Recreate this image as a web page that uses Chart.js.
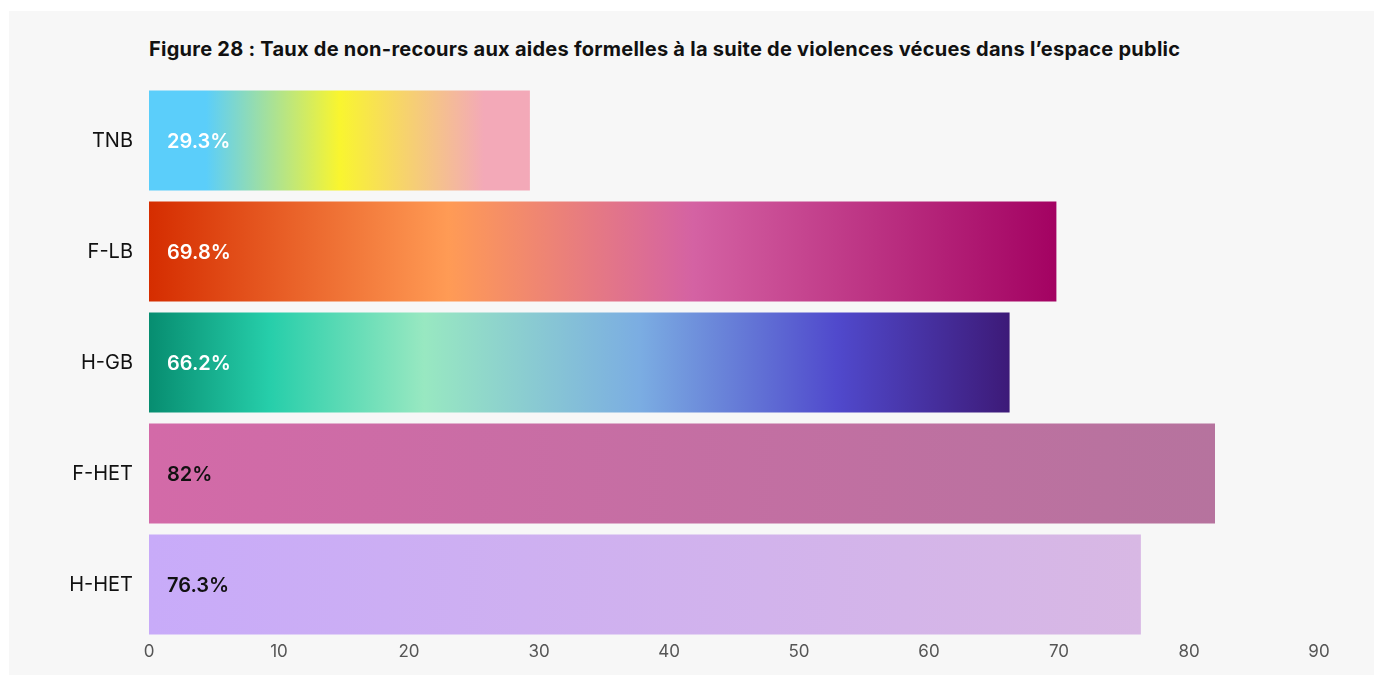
<!DOCTYPE html>
<html lang="fr">
<head>
<meta charset="utf-8">
<script src="https://cdn.jsdelivr.net/npm/chart.js@4"></script>
<style>
  html, body { margin: 0; padding: 0; background: #fff; }
  #panel {
    position: absolute; left: 9px; top: 11px; width: 1365px; height: 664px;
    background: #f7f7f7;
  }
  #title {
    position: absolute; left: 140px; top: 26px;
    font-family: Inter, sans-serif; font-weight: 700; font-size: 20px;
    letter-spacing: 0.25px; color: #111; white-space: nowrap;
  }
  #wrap { position: absolute; left: 0; top: 0; width: 1365px; height: 664px; }
</style>
</head>
<body>
<div id="panel">
  <div id="title">Figure 28 : Taux de non-recours aux aides formelles à la suite de violences vécues dans l’espace public</div>
  <div id="wrap"><canvas id="chart"></canvas></div>
</div>
<script>
// categories and values
const groups = ["TNB", "F-LB", "H-GB", "F-HET", "H-HET"];
const rates = [29.3, 69.8, 66.2, 82, 76.3];
const xTicks = [0, 10, 20, 30, 40, 50, 60, 70, 80, 90];

// gradient stops for each bar (flag colours)
const barStops = [
  [[0, "#5bcefa"], [0.15, "#5bcefa"], [0.5, "#f9f52f"], [0.88, "#f3a9b8"], [1, "#f3a9b8"]],
  [[0, "#d52d00"], [0.33, "#ff9b55"], [0.6, "#d462a3"], [1, "#a30262"]],
  [[0, "#078d70"], [0.14, "#26ceaa"], [0.32, "#98e8c1"], [0.57, "#7bade2"], [0.8, "#5049cc"], [1, "#3d1a78"]],
  [[0, "#d36aa8"], [1, "#b6739e"]],
  [[0, "#c8abf9"], [1, "#d8b8e4"]]
];
const labelColors = ["#fff", "#fff", "#fff", "#111", "#111"];

function barFill(ctx) {
  const chart = ctx.chart;
  const xs = chart.scales.x;
  if (!xs || !chart.chartArea) return barStops[ctx.dataIndex][0][1];
  const x0 = xs.getPixelForValue(0);
  const x1 = xs.getPixelForValue(rates[ctx.dataIndex]);
  const g = chart.ctx.createLinearGradient(x0, 0, x1, 0);
  barStops[ctx.dataIndex].forEach(s => g.addColorStop(s[0], s[1]));
  return g;
}

const valueLabels = {
  id: "valueLabels",
  afterDatasetsDraw(chart) {
    const c = chart.ctx;
    const meta = chart.getDatasetMeta(0);
    c.save();
    c.font = "600 20px Inter, sans-serif";
    c.textBaseline = "middle";
    c.textAlign = "left";
    meta.data.forEach((bar, i) => {
      c.fillStyle = labelColors[i];
      c.fillText(rates[i] + "%", bar.base + 18, bar.y + 1);
    });
    c.restore();
  }
};

new Chart(document.getElementById("chart"), {
  type: "bar",
  data: {
    labels: groups,
    datasets: [{
      data: rates,
      backgroundColor: barFill,
      borderWidth: 0,
      barPercentage: 0.9,
      categoryPercentage: 1
    }]
  },
  options: {
    indexAxis: "y",
    responsive: true,
    maintainAspectRatio: false,
    animation: false,
    layout: { padding: { top: 74, right: 55, left: 0, bottom: 0 } },
    plugins: {
      legend: { display: false },
      tooltip: { enabled: false }
    },
    scales: {
      x: {
        min: 0, max: 90,
        afterBuildTicks: s => { s.ticks = xTicks.map(v => ({ value: v })); },
        afterFit: s => { s.height = 35; },
        grid: { display: false, drawTicks: false },
        border: { display: false },
        ticks: { padding: 2, color: "#555", font: { family: "Inter", size: 17 } }
      },
      y: {
        afterFit: s => { s.width = 140; },
        grid: { display: false, drawTicks: false },
        border: { display: false },
        ticks: { padding: 16, color: "#111", font: { family: "Inter", size: 20 } }
      }
    }
  },
  plugins: [valueLabels]
});
</script>
</body>
</html>
